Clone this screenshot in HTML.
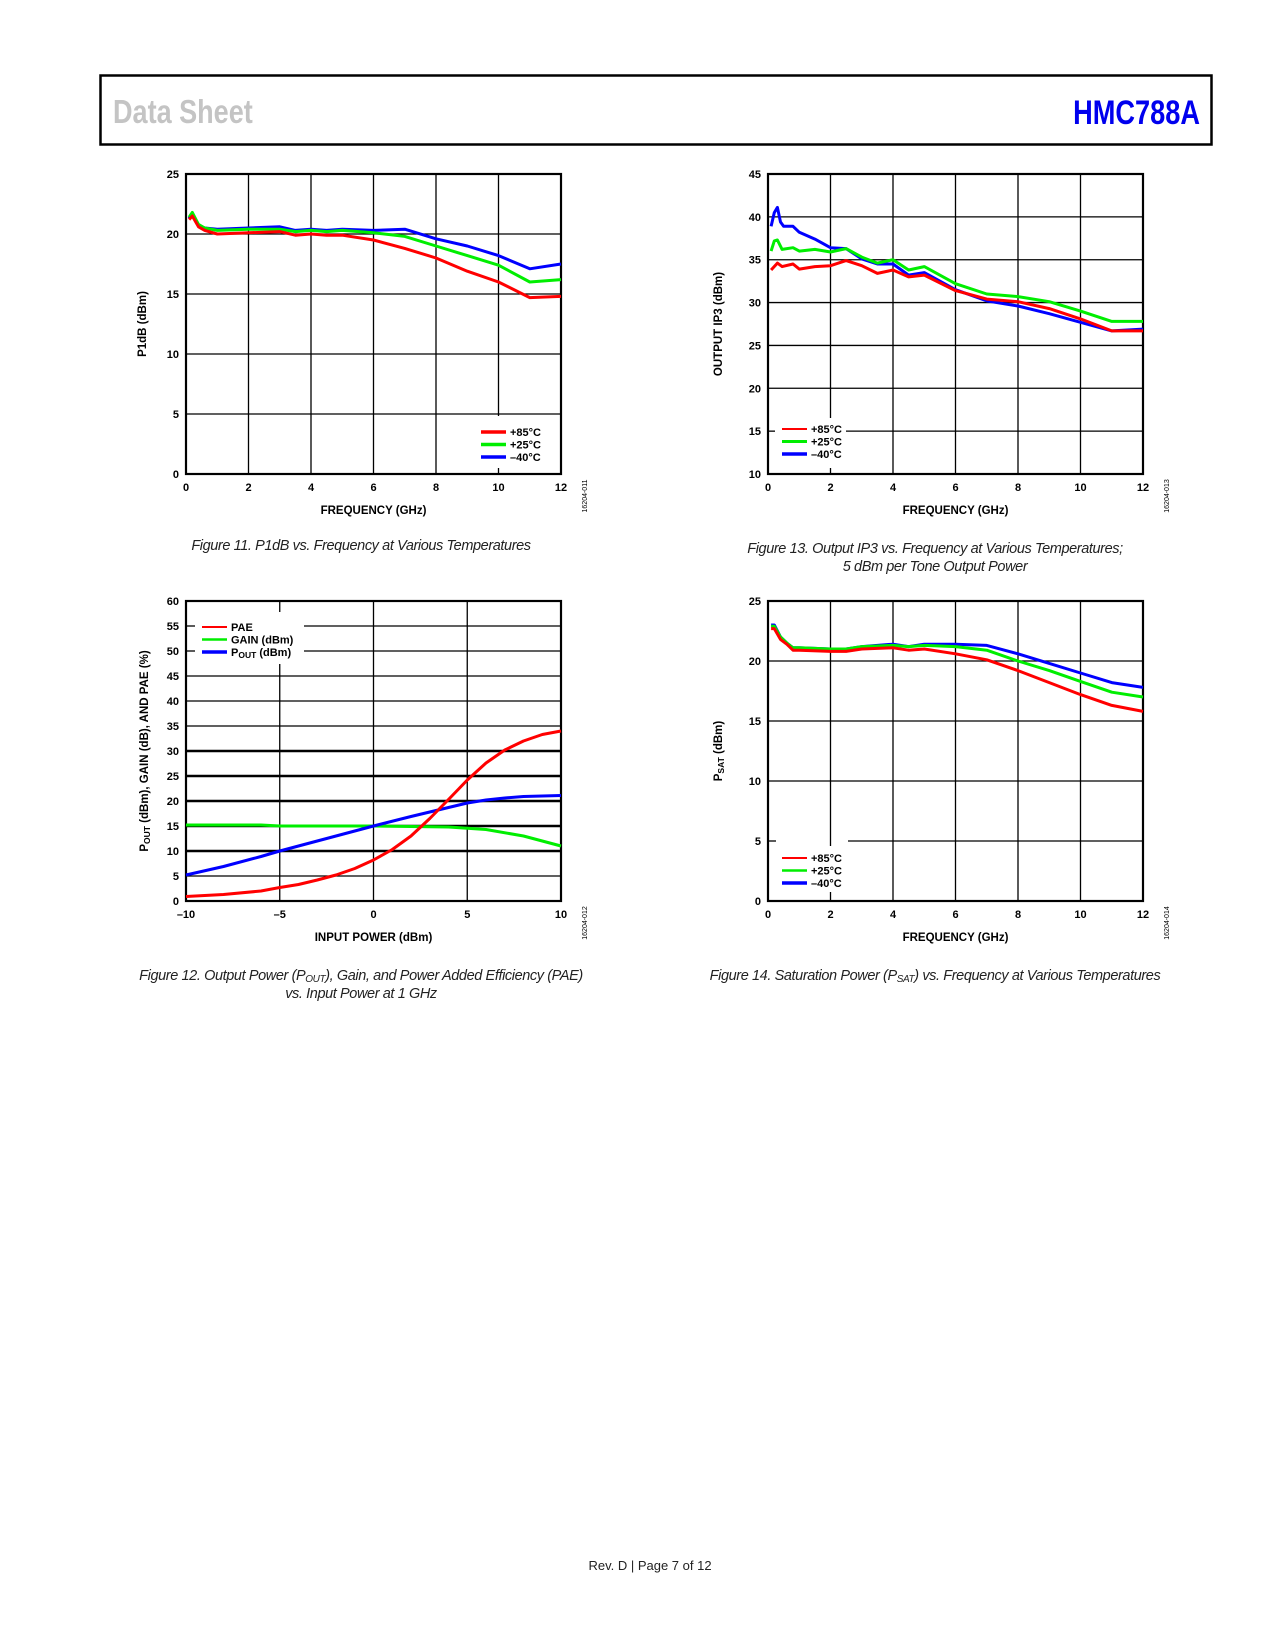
<!DOCTYPE html>
<html><head><meta charset="utf-8">
<style>
html,body{margin:0;padding:0;background:#fff;}
body{width:1275px;height:1650px;position:relative;overflow:hidden;font-family:"Liberation Sans",sans-serif;}
svg{position:absolute;left:0;top:0;}
.tk{font:bold 11px "Liberation Sans",sans-serif;fill:#000;}
.ttl{font:bold 11.5px "Liberation Sans",sans-serif;fill:#000;}
.cap{font:italic 14.5px "Liberation Sans",sans-serif;fill:#222;letter-spacing:-0.4px;}
.id{font:7px "Liberation Sans",sans-serif;fill:#000;}
</style></head>
<body>
<svg id="pg" width="1275" height="1650" viewBox="0 0 1275 1650" xmlns="http://www.w3.org/2000/svg">
<rect x="100.5" y="75.5" width="1111" height="69" fill="none" stroke="#000" stroke-width="2.5"/>
<text x="113" y="123" font-family="Liberation Sans, sans-serif" font-weight="bold" font-size="33" fill="#c4c4c4" transform="translate(113 0) scale(0.82 1) translate(-113 0)">Data Sheet</text>
<text x="1200" y="124" text-anchor="end" font-family="Liberation Sans, sans-serif" font-weight="bold" font-size="34" fill="#0000ee" transform="translate(1200 0) scale(0.8 1) translate(-1200 0)">HMC788A</text>
<text x="650" y="1570" text-anchor="middle" font-family="Liberation Sans, sans-serif" font-size="13" fill="#222">Rev. D | Page 7 of 12</text>
<text class="cap" x="361" y="550" text-anchor="middle">Figure 11. P1dB vs. Frequency at Various Temperatures</text>
<text class="cap" x="935" y="553" text-anchor="middle">Figure 13. Output IP3 vs. Frequency at Various Temperatures;</text>
<text class="cap" x="935" y="571" text-anchor="middle">5 dBm per Tone Output Power</text>
<text class="cap" x="361" y="980" text-anchor="middle">Figure 12. Output Power (P<tspan font-size="10" dy="2">OUT</tspan><tspan dy="-2">), Gain, and Power Added Efficiency (PAE)</tspan></text>
<text class="cap" x="361" y="998" text-anchor="middle">vs. Input Power at 1 GHz</text>
<text class="cap" x="935" y="980" text-anchor="middle">Figure 14. Saturation Power (P<tspan font-size="10" dy="2">SAT</tspan><tspan dy="-2">) vs. Frequency at Various Temperatures</tspan></text>
</svg>
<script>
// ---- Chart 1: P1dB ----
const c1Freq = {
 r:[0.1,0.2,0.4,0.6,1,2,3,3.5,4,4.5,5,6,7,8,9,10,11,12],
};
const c1Red   = [21.2,21.5,20.6,20.3,20.0,20.1,20.2,19.9,20.0,19.9,19.9,19.5,18.8,18.0,16.9,16.0,14.7,14.8];
const c1Green = [21.4,21.8,20.8,20.5,20.3,20.4,20.4,20.2,20.3,20.2,20.3,20.1,19.8,19.0,18.2,17.4,16.0,16.2];
const c1Blue  = [21.3,21.7,20.7,20.5,20.4,20.5,20.6,20.3,20.4,20.3,20.4,20.3,20.4,19.6,19.0,18.2,17.1,17.5];
const c1XTicks = [0,2,4,6,8,10,12];
const c1YTicks = [0,5,10,15,20,25];
// ---- Chart 2: OIP3 ----
const c2FreqBlue = [0.1,0.2,0.3,0.4,0.5,0.8,1,1.5,2,2.5,3,3.5,4,4.5,5,6,7,8,9,10,11,12];
const c2Blue     = [38.9,40.5,41.1,39.4,38.9,38.9,38.2,37.4,36.4,36.3,35.1,34.5,34.5,33.2,33.5,31.5,30.2,29.6,28.7,27.7,26.7,26.9];
const c2FreqGreen= [0.1,0.2,0.3,0.45,0.8,1,1.5,2,2.5,3,3.5,4,4.5,5,6,7,8,9,10,11,12];
const c2Green    = [36.0,37.2,37.3,36.2,36.4,36.0,36.2,35.9,36.3,35.3,34.6,35.0,33.8,34.2,32.2,31.0,30.7,30.1,29.0,27.8,27.8];
const c2FreqRed  = [0.1,0.3,0.45,0.8,1,1.5,2,2.5,3,3.5,4,4.5,5,6,7,8,9,10,11,12];
const c2Red      = [33.8,34.6,34.2,34.5,33.9,34.2,34.3,34.9,34.3,33.4,33.8,33.0,33.2,31.4,30.4,30.1,29.3,28.1,26.7,26.7];
const c2YTicks = [10,15,20,25,30,35,40,45];
// ---- Chart 3: Pout/Gain/PAE ----
const c3PinPae  = [-10,-8,-6,-5,-4,-3,-2,-1,0,1,2,3,4,5,6,7,8,9,10];
const c3Pae     = [0.9,1.3,2.0,2.7,3.3,4.2,5.2,6.5,8.2,10.3,13.0,16.5,20.3,24.2,27.6,30.2,32.0,33.3,34.0];
const c3PinGain = [-10,-6,-5,0,2,4,6,8,10];
const c3Gain    = [15.2,15.2,15.0,15.0,14.9,14.8,14.3,13.0,11.0];
const c3PinPout = [-10,-8,-6,-5,-4,-2,0,2,4,5,6,7,8,10];
const c3Pout    = [5.2,6.9,8.9,10.0,11.0,13.0,15.0,16.9,18.7,19.6,20.2,20.6,20.9,21.1];
const c3XTicks = [-10,-5,0,5,10];
const c3XLabels = ['\u201310','\u20135','0','5','10'];
const c3YTicks = [0,5,10,15,20,25,30,35,40,45,50,55,60];
// ---- Chart 4: Psat ----
const c4Freq  = [0.1,0.2,0.4,0.6,0.8,1,2,2.5,3,4,4.5,5,6,7,8,9,10,11,12];
const c4Red   = [22.7,22.7,21.8,21.4,20.9,20.9,20.8,20.8,21.0,21.1,20.9,21.0,20.6,20.1,19.2,18.2,17.2,16.3,15.8];
const c4Green = [22.9,22.9,22.0,21.5,21.1,21.1,21.0,21.0,21.2,21.3,21.2,21.3,21.2,20.9,20.0,19.2,18.3,17.4,17.0];
const c4Blue  = [23.0,23.0,22.0,21.5,21.1,21.1,21.0,21.0,21.2,21.4,21.2,21.4,21.4,21.3,20.6,19.8,19.0,18.2,17.8];

const NS='http://www.w3.org/2000/svg';
const svg=document.getElementById('pg');
function el(tag,attrs,parent){const e=document.createElementNS(NS,tag);for(const k in attrs)e.setAttribute(k,attrs[k]);(parent||svg).appendChild(e);return e;}
const RED='#ff0000',GREEN='#00ee00',BLUE='#0000ff';

function chart(o){
  const g=el('g',{});
  
  
  const X=v=>o.L+(v-o.x0)/(o.x1-o.x0)*(o.R-o.L);
  const Y=v=>o.B-(v-o.y0)/(o.y1-o.y0)*(o.B-o.T);
  o.yt.forEach(v=>{
    if(v===o.y0||v===o.y1)return;
    const yy=Y(v);
    const w=(o.thick&&o.thick.includes(v))?2.4:1.3;
    const segs=(o.hbreak&&o.hbreak[v])?[[o.L,o.hbreak[v][0]],[o.hbreak[v][1],o.R]]:[[o.L,o.R]];
    segs.forEach(s=>{const ln=el('line',{x1:s[0],x2:s[1],y1:yy,y2:yy,stroke:'#000','stroke-width':w},g);
      
      });
  });
  o.xt.forEach(v=>{
    if(v===o.x0||v===o.x1)return;
    const xx=X(v);
    const segs=(o.vbreak&&o.vbreak[v])?[[o.T,o.vbreak[v][0]],[o.vbreak[v][1],o.B]]:[[o.T,o.B]];
    segs.forEach(s=>{const ln=el('line',{x1:xx,x2:xx,y1:s[0],y2:s[1],stroke:'#000','stroke-width':1.3},g);
      
      });
  });
  const fr=el('rect',{x:o.L,y:o.T,width:o.R-o.L,height:o.B-o.T,fill:'none',stroke:'#000','stroke-width':2.2},g);
  
  
  o.yt.forEach(v=>{const t=el('text',{x:o.L-7,y:Y(v)+4,'text-anchor':'end',class:'tk'},g);t.textContent=v;
    
    });
  o.xt.forEach((v,i)=>{const t=el('text',{x:X(v),y:o.B+17,'text-anchor':'middle',class:'tk'},g);t.textContent=o.xl?o.xl[i]:v;
    
    });
  const xt=el('text',{x:(o.L+o.R)/2,y:o.B+40,'text-anchor':'middle',class:'ttl'},g);xt.textContent=o.xtitle;
  
  
  const yt=el('text',{x:0,y:0,'text-anchor':'middle',class:'ttl',transform:`translate(${o.ytx},${(o.T+o.B)/2}) rotate(-90)`},g);
  yt.innerHTML=o.ytitle;
  
  
  const id=el('text',{x:0,y:0,'text-anchor':'middle',class:'id',transform:`translate(${o.R+26},${o.B+22}) rotate(-90)`},g);
  id.textContent=o.id;
  
  
  o.series.forEach(s=>{
    const d=s.xs.map((x,i)=>(i?'L':'M')+X(x).toFixed(1)+' '+Y(s.ys[i]).toFixed(1)).join(' ');
    const p=el('path',{d:d,fill:'none',stroke:s.c,'stroke-width':3,'stroke-linejoin':'round'},g);
    
    
  });
  o.legend.forEach((l,i)=>{
    const y=o.lg.y+i*12.5;
    const ln=el('line',{x1:o.lg.x,x2:o.lg.x+25,y1:y,y2:y,stroke:l.c,'stroke-width':l.w||3},g);
    
    
    const t=el('text',{x:o.lg.x+29,y:y+4,class:'tk'},g);t.innerHTML=l.t;
    
    
  });
}
const tempLeg=[{t:'+85\u00b0C',c:RED},{t:'+25\u00b0C',c:GREEN},{t:'\u201340\u00b0C',c:BLUE}];
chart({name:'chart-p1db',L:186,R:561,T:174,B:474,x0:0,x1:12,y0:0,y1:25,xt:c1XTicks,yt:c1YTicks,
  xtitle:'FREQUENCY (GHz)',ytitle:'P1dB (dBm)',ytx:146,id:'16204-011',
  vbreak:{10:[416,468]},
  series:[{n:'series-minus40c',xs:c1Freq.r,ys:c1Blue,c:BLUE},{n:'series-plus25c',xs:c1Freq.r,ys:c1Green,c:GREEN},{n:'series-plus85c',xs:c1Freq.r,ys:c1Red,c:RED}],
  legend:tempLeg.map(l=>({...l,w:3.5})),lg:{x:481,y:432}});
chart({name:'chart-output-ip3',L:768,R:1143,T:174,B:474,x0:0,x1:12,y0:10,y1:45,xt:c1XTicks,yt:c2YTicks,
  xtitle:'FREQUENCY (GHz)',ytitle:'OUTPUT IP3 (dBm)',ytx:722,id:'16204-013',
  hbreak:{15:[775,846]},vbreak:{2:[418,468]},
  series:[{n:'series-minus40c',xs:c2FreqBlue,ys:c2Blue,c:BLUE},{n:'series-plus25c',xs:c2FreqGreen,ys:c2Green,c:GREEN},{n:'series-plus85c',xs:c2FreqRed,ys:c2Red,c:RED}],
  legend:[{t:'+85\u00b0C',c:RED,w:2},{t:'+25\u00b0C',c:GREEN,w:3},{t:'\u201340\u00b0C',c:BLUE,w:3.5}],lg:{x:782,y:429}});
chart({name:'chart-pout-gain-pae',L:186,R:561,T:601,B:901,x0:-10,x1:10,y0:0,y1:60,xt:c3XTicks,xl:c3XLabels,yt:c3YTicks,
  thick:[10,15,20,25,30],xtitle:'INPUT POWER (dBm)',ytitle:'P<tspan font-size="8.5" dy="2">OUT</tspan><tspan dy="-2"> (dBm), GAIN (dB), AND PAE (%)</tspan>',ytx:148,id:'16204-012',
  hbreak:{55:[195,304],50:[195,304]},vbreak:{'-5':[612,664]},
  series:[{n:'series-gain',xs:c3PinGain,ys:c3Gain,c:GREEN},{n:'series-pout',xs:c3PinPout,ys:c3Pout,c:BLUE},{n:'series-pae',xs:c3PinPae,ys:c3Pae,c:RED}],
  legend:[{t:'PAE',c:RED,w:2},{t:'GAIN (dBm)',c:GREEN,w:2.5},{t:'P<tspan font-size="8.5" dy="2">OUT</tspan><tspan dy="-2"> (dBm)</tspan>',c:BLUE,w:3.5}],lg:{x:202,y:627}});
chart({name:'chart-psat',L:768,R:1143,T:601,B:901,x0:0,x1:12,y0:0,y1:25,xt:c1XTicks,yt:c1YTicks,
  xtitle:'FREQUENCY (GHz)',ytitle:'P<tspan font-size="8.5" dy="2">SAT</tspan><tspan dy="-2"> (dBm)</tspan>',ytx:722,id:'16204-014',
  hbreak:{5:[776,848]},vbreak:{2:[846,892]},
  series:[{n:'series-minus40c',xs:c4Freq,ys:c4Blue,c:BLUE},{n:'series-plus25c',xs:c4Freq,ys:c4Green,c:GREEN},{n:'series-plus85c',xs:c4Freq,ys:c4Red,c:RED}],
  legend:[{t:'+85\u00b0C',c:RED,w:2},{t:'+25\u00b0C',c:GREEN,w:2.5},{t:'\u201340\u00b0C',c:BLUE,w:3.5}],lg:{x:782,y:858}});
</script>
</body></html>
